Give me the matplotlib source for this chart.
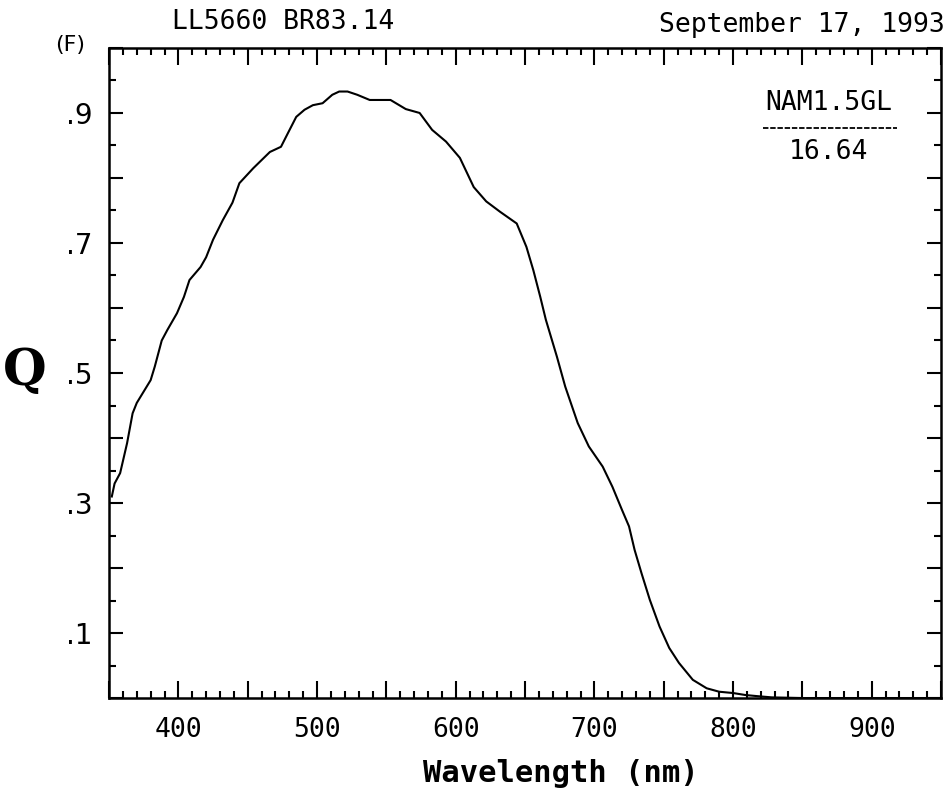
import numpy as np
import matplotlib
matplotlib.use("Agg")
import matplotlib.pyplot as plt
from matplotlib.ticker import MultipleLocator, FuncFormatter

# quantum efficiency curve
wavelength = [352, 354, 358, 363, 367, 370, 380, 383, 388, 392, 399, 404, 408, 416,
              420, 425, 432, 439, 444, 454, 466, 474, 479, 485, 491, 497, 504, 511,
              516, 522, 529, 538, 553, 564, 574, 583, 593, 603, 613, 622, 632, 644,
              651, 656, 661, 665, 673, 679, 688, 696, 706, 713, 720, 725, 729, 734,
              740, 747, 754, 761, 771, 781, 790, 800, 809, 817, 828, 850, 900, 950]
qe = [0.31, 0.33, 0.346, 0.392, 0.438, 0.454, 0.489, 0.51, 0.55, 0.566, 0.592, 0.617,
      0.643, 0.663, 0.678, 0.705, 0.735, 0.762, 0.792, 0.815, 0.84, 0.848, 0.869,
      0.894, 0.905, 0.912, 0.915, 0.928, 0.933, 0.933, 0.928, 0.92, 0.92, 0.906,
      0.90, 0.874, 0.856, 0.831, 0.786, 0.764, 0.748, 0.73, 0.694, 0.658, 0.617,
      0.582, 0.525, 0.479, 0.423, 0.387, 0.356, 0.325, 0.289, 0.264, 0.228, 0.192,
      0.151, 0.11, 0.077, 0.054, 0.028, 0.015, 0.0097, 0.0077, 0.0046, 0.003,
      0.001, 0.0, 0.0, 0.0]

xticks_labeled = [400, 500, 600, 700, 800, 900]
yticks_labeled = [0.1, 0.3, 0.5, 0.7, 0.9]
ytick_text = [".1", ".3", ".5", ".7", ".9"]

mono = "DejaVu Sans Mono"

fig = plt.figure(figsize=(9.49, 7.89), dpi=100)
ax = fig.add_axes([0.1149, 0.1153, 0.8767, 0.8239])

ax.plot(wavelength, qe, color="black", lw=1.5)

ax.set_xlim(350, 950)
ax.set_ylim(0, 1.0)

ax.xaxis.set_major_locator(MultipleLocator(50))
ax.xaxis.set_minor_locator(MultipleLocator(10))
ax.xaxis.set_major_formatter(FuncFormatter(lambda v, p: "%d" % v if int(round(v)) in xticks_labeled else ""))
ax.yaxis.set_major_locator(MultipleLocator(0.1))
ax.yaxis.set_minor_locator(MultipleLocator(0.05))
ax.yaxis.set_major_formatter(FuncFormatter(lambda v, p: ytick_text[yticks_labeled.index(round(v, 1))] if round(v, 1) in yticks_labeled else ""))

ax.tick_params(axis="both", which="both", direction="in", top=True, right=True, width=1.5, colors="black")
ax.tick_params(axis="x", which="major", length=12, labelsize=19, pad=14)
ax.tick_params(axis="x", which="minor", length=5)
ax.tick_params(axis="y", which="major", length=10, labelsize=20, pad=12)
ax.tick_params(axis="y", which="minor", length=5)
for lab in ax.get_xticklabels():
    lab.set_family(mono)
for sp in ax.spines.values():
    sp.set_linewidth(1.8)

fig.text(283 / 949, 1 - 22 / 789, "LL5660 BR83.14", family=mono, fontsize=19, ha="center", va="center")
fig.text(945 / 949, 1 - 25 / 789, "September 17, 1993", family=mono, fontsize=19, ha="right", va="center")
fig.text(70 / 949, 1 - 45 / 789, "(F)", fontsize=16, ha="center", va="center")
fig.text(25 / 949, 1 - 372 / 789, "Q", family="DejaVu Serif", fontsize=36, fontweight="bold", ha="center", va="center")
fig.text(561 / 949, 1 - 773 / 789, "Wavelength (nm)", family=mono, fontsize=22, fontweight="bold", ha="center", va="center")

ax.text(0.865, 0.915, "NAM1.5GL", transform=ax.transAxes, family=mono, fontsize=19, ha="center", va="center")
ax.plot([0.786, 0.947], [0.877, 0.877], transform=ax.transAxes, color="black", lw=1.3, ls=(0, (3, 1)))
ax.text(0.865, 0.84, "16.64", transform=ax.transAxes, family=mono, fontsize=19, ha="center", va="center")

fig.savefig("out.png", dpi=100)
